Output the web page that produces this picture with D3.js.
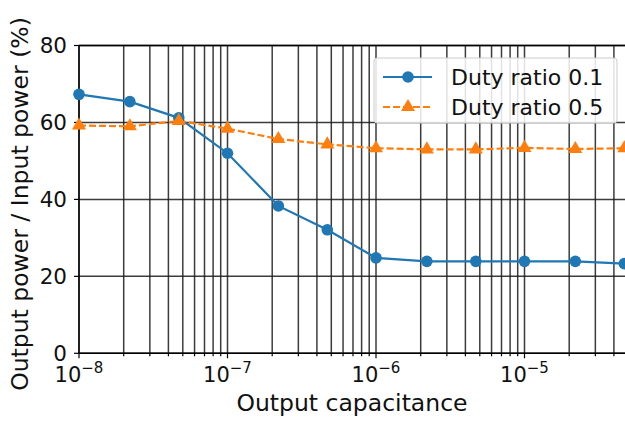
<!DOCTYPE html>
<html>
<head>
<meta charset="utf-8">
<script src="https://cdn.jsdelivr.net/npm/d3@7"></script>
<style>
  body { margin: 0; background: #fff; }
  svg { display: block; font-family: "DejaVu Sans", sans-serif; }
</style>
</head>
<body>
<div id="chart"></div>
<script>
// capacitance values (F)
const capacitance = [1e-8, 2.2e-8, 4.7e-8, 1e-7, 2.2e-7, 4.7e-7, 1e-6, 2.2e-6, 4.7e-6, 1e-5, 2.2e-5, 4.7e-5];
const duty01 = [67.3, 65.4, 61.2, 52.0, 38.3, 32.1, 24.8, 23.9, 23.9, 23.9, 23.9, 23.3];
const duty05 = [59.2, 59.0, 60.4, 58.4, 55.7, 54.3, 53.3, 53.0, 53.0, 53.4, 53.1, 53.3];
const seriesNames = ["Duty ratio 0.1", "Duty ratio 0.5"];
const yTicks = [0, 20, 40, 60, 80];
const xMajor = [1e-8, 1e-7, 1e-6, 1e-5];
const xLabels = ["10", "10", "10", "10"];
const xExp = ["\u22128", "\u22127", "\u22126", "\u22125"];

const W = 625, H = 423;
const padLeft = 79, padTop = 45.5, padBottom = 353.3;
const decade = 148.5;

const svg = d3.select("#chart").append("svg")
  .attr("width", W).attr("height", H);

const x = d3.scaleLog().domain([1e-8, 1e-4]).range([padLeft, padLeft + 4 * decade]);
const y = d3.scaleLinear().domain([0, 80]).range([padBottom, padTop]);

// minor + major x positions
const xAll = [];
for (let e = -8; e < -4; e++) {
  for (let m = 1; m < 10; m++) xAll.push(m * Math.pow(10, e));
}

const grid = svg.append("g");
grid.selectAll("line.vx")
  .data(xAll)
  .join("line")
  .attr("x1", d => x(d)).attr("x2", d => x(d))
  .attr("y1", padTop).attr("y2", padBottom)
  .attr("stroke", "#1a1a1a").attr("stroke-opacity", 0.85).attr("stroke-width", 1.5);

grid.selectAll("line.hy")
  .data(yTicks)
  .join("line")
  .attr("x1", padLeft).attr("x2", W)
  .attr("y1", d => y(d)).attr("y2", d => y(d))
  .attr("stroke", "#1a1a1a").attr("stroke-opacity", 0.85).attr("stroke-width", 1.5);

// spines
svg.append("line").attr("x1", padLeft).attr("x2", W).attr("y1", padTop).attr("y2", padTop)
  .attr("stroke", "#000").attr("stroke-width", 1.4);
svg.append("line").attr("x1", padLeft).attr("x2", padLeft).attr("y1", padTop).attr("y2", padBottom)
  .attr("stroke", "#000").attr("stroke-width", 1.4);
svg.append("line").attr("x1", padLeft).attr("x2", W).attr("y1", padBottom).attr("y2", padBottom)
  .attr("stroke", "#000").attr("stroke-width", 1.4);

// ticks
svg.append("g").selectAll("line")
  .data(xAll)
  .join("line")
  .attr("x1", d => x(d)).attr("x2", d => x(d))
  .attr("y1", padBottom).attr("y2", d => padBottom + (xMajor.includes(d) ? 5 : 3))
  .attr("stroke", "#000").attr("stroke-width", 1.2);

svg.append("g").selectAll("line")
  .data(yTicks)
  .join("line")
  .attr("x1", padLeft - 5).attr("x2", padLeft)
  .attr("y1", d => y(d)).attr("y2", d => y(d))
  .attr("stroke", "#000").attr("stroke-width", 1.2);

svg.append("g").selectAll("text")
  .data(yTicks)
  .join("text")
  .attr("x", padLeft - 12).attr("y", d => y(d) + 7.5)
  .attr("text-anchor", "end")
  .attr("font-size", 21.5).attr("fill", "#111")
  .text(d => d);

const xt = svg.append("g").selectAll("text")
  .data(xMajor)
  .join("text")
  .attr("x", d => x(d)).attr("y", padBottom + 29)
  .attr("text-anchor", "middle")
  .attr("font-size", 21).attr("fill", "#111");
xt.append("tspan").text((d, i) => xLabels[i]);
xt.append("tspan").attr("dy", -9).attr("font-size", 15).text((d, i) => xExp[i]);

// axis titles
svg.append("text")
  .attr("x", 352).attr("y", 411)
  .attr("text-anchor", "middle")
  .attr("font-size", 23.5).attr("fill", "#111")
  .text("Output capacitance");

svg.append("text")
  .attr("transform", "translate(28,204) rotate(-90)")
  .attr("text-anchor", "middle")
  .attr("font-size", 23.5).attr("fill", "#111")
  .text("Output power / Input power (%)");

// series
const colors = ["#1f77b4", "#ff7f0e"];
const line = d3.line().x((d, i) => x(capacitance[i])).y(d => y(d));

const plot = svg.append("g");
plot.append("path").datum(duty01)
  .attr("d", line).attr("fill", "none")
  .attr("stroke", colors[0]).attr("stroke-width", 2.2);
plot.append("path").datum(duty05)
  .attr("d", line).attr("fill", "none")
  .attr("stroke", colors[1]).attr("stroke-width", 2.2)
  .attr("stroke-dasharray", "7,3");

plot.append("g").selectAll("circle")
  .data(duty01)
  .join("circle")
  .attr("cx", (d, i) => x(capacitance[i])).attr("cy", d => y(d))
  .attr("r", 5.8).attr("fill", colors[0]);

const tri = d3.symbol().type(d3.symbolTriangle).size(85);
plot.append("g").selectAll("path")
  .data(duty05)
  .join("path")
  .attr("d", tri)
  .attr("transform", (d, i) => `translate(${x(capacitance[i])},${y(d)})`)
  .attr("fill", colors[1]);

// legend
const lg = svg.append("g");
lg.append("rect")
  .attr("x", 374).attr("y", 58).attr("width", 243).attr("height", 65)
  .attr("rx", 3).attr("fill", "#fff").attr("fill-opacity", 0.85)
  .attr("stroke", "#ccc").attr("stroke-width", 1);

seriesNames.forEach((name, i) => {
  const ly = 77 + i * 30;
  lg.append("line")
    .attr("x1", 383).attr("x2", 432).attr("y1", ly).attr("y2", ly)
    .attr("stroke", colors[i]).attr("stroke-width", 2.2)
    .attr("stroke-dasharray", i === 1 ? "7,3" : null);
  if (i === 0) {
    lg.append("circle").attr("cx", 408).attr("cy", ly).attr("r", 5.8).attr("fill", colors[0]);
  } else {
    lg.append("path").attr("d", tri).attr("transform", `translate(408,${ly})`).attr("fill", colors[1]);
  }
  lg.append("text")
    .attr("x", 451).attr("y", ly + 8)
    .attr("font-size", 22).attr("fill", "#111")
    .text(name);
});
</script>
</body>
</html>
